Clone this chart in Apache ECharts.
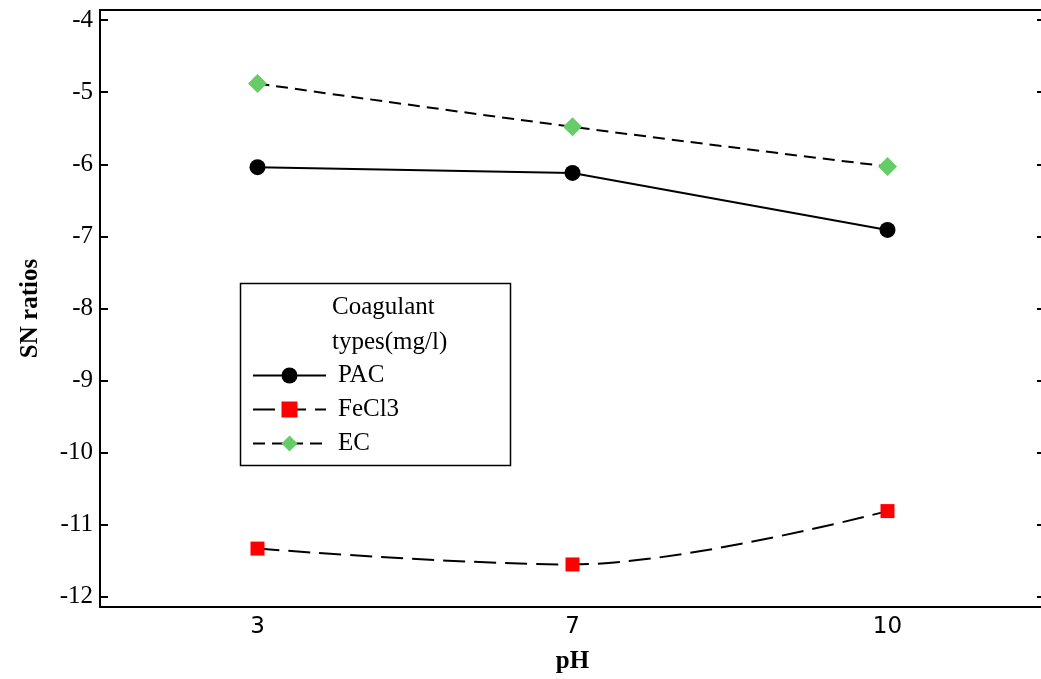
<!DOCTYPE html>
<html>
<head>
<meta charset="utf-8">
<script src="https://cdn.jsdelivr.net/npm/echarts@6/dist/echarts.min.js"></script>
<style>html,body{margin:0;padding:0;background:#fff;}#c{width:1041px;height:679px;}</style>
</head>
<body>
<div id="c"></div>
<script>
const categories = ['3', '7', '10'];
const pacValues = [-6.04, -6.12, -6.91];
const fecl3Values = [-11.33, -11.55, -10.81];
const ecValues = [-4.88, -5.48, -6.03];
const yTicks = [-12, -11, -10, -9, -8, -7, -6, -5, -4];
const legendTitle = ['Coagulant', 'types(mg/l)'];

const serif = '"Liberation Serif", "Times New Roman", serif';
const chart = echarts.init(document.getElementById('c'), null, {renderer: 'canvas'});
chart.setOption({
  animation: false,
  backgroundColor: '#fff',
  grid: {left: 100, top: 10, width: 945, height: 597, show: false, outerBoundsMode: 'none', containLabel: false},
  xAxis: [{
    type: 'category', data: categories, boundaryGap: true,
    name: 'pH', nameLocation: 'middle', nameGap: 42,
    nameTextStyle: {fontFamily: serif, fontWeight: 'bold', fontSize: 25, color: '#000'},
    axisLine: {lineStyle: {color: '#000', width: 2}},
    axisTick: {inside: true, alignWithLabel: true, length: 8, lineStyle: {color: '#000', width: 2}},
    axisLabel: {fontFamily: '"DejaVu Sans", sans-serif', fontSize: 23, color: '#000', margin: 9},
    splitLine: {show: false}
  }, {
    type: 'category', data: categories, position: 'top', boundaryGap: true,
    axisLine: {lineStyle: {color: '#000', width: 2}},
    axisTick: {show: false}, axisLabel: {show: false}, splitLine: {show: false}
  }],
  yAxis: [{
    type: 'value', min: -12.14, max: -3.86,
    name: 'SN ratios', nameLocation: 'middle', nameGap: 57,
    nameTextStyle: {fontFamily: serif, fontWeight: 'bold', fontSize: 25, color: '#000'},
    axisLine: {show: true, lineStyle: {color: '#000', width: 2}},
    axisTick: {show: true, inside: true, length: 8, customValues: yTicks, lineStyle: {color: '#000', width: 2}},
    axisLabel: {fontFamily: serif, fontSize: 25, color: '#000', margin: 7, customValues: yTicks},
    splitLine: {show: false}
  }, {
    type: 'value', min: -12.14, max: -3.86, position: 'right',
    axisLine: {show: false},
    axisTick: {show: true, inside: true, length: 8, customValues: yTicks, lineStyle: {color: '#000', width: 2}},
    axisLabel: {show: false},
    splitLine: {show: false}
  }],
  legend: {
    orient: 'vertical', left: 247, top: 358,
    itemWidth: 73, itemHeight: 20, itemGap: 9,
    textStyle: {fontFamily: serif, fontSize: 25, color: '#000', padding: [0, 0, 0, 7], lineHeight: 25},
    data: ['PAC', 'FeCl3', 'EC']
  },
  graphic: [{
    type: 'rect', left: 238, top: 281, z: 100,
    shape: {width: 270, height: 182},
    style: {fill: 'none', stroke: '#000', lineWidth: 1.5}
  }, {
    type: 'text', left: 332, top: 290, z: 100,
    style: {text: legendTitle.join('\n'), font: '25px ' + serif, lineHeight: 35, fill: '#000'}
  }],
  series: [{
    name: 'PAC', type: 'line', data: pacValues,
    symbol: 'circle', symbolSize: 16,
    itemStyle: {color: '#000'},
    lineStyle: {color: '#000', width: 2, type: 'solid'}
  }, {
    name: 'FeCl3', type: 'line', data: fecl3Values, smooth: 0.35,
    symbol: 'rect', symbolSize: 14,
    itemStyle: {color: '#ff0000'},
    lineStyle: {color: '#000', width: 2, type: [22, 9]}
  }, {
    name: 'EC', type: 'line', data: ecValues, smooth: 0.5,
    symbol: 'diamond', symbolSize: 19,
    itemStyle: {color: '#66cc66'},
    lineStyle: {color: '#000', width: 2, type: [12, 7]}
  }]
});
</script>
</body>
</html>
